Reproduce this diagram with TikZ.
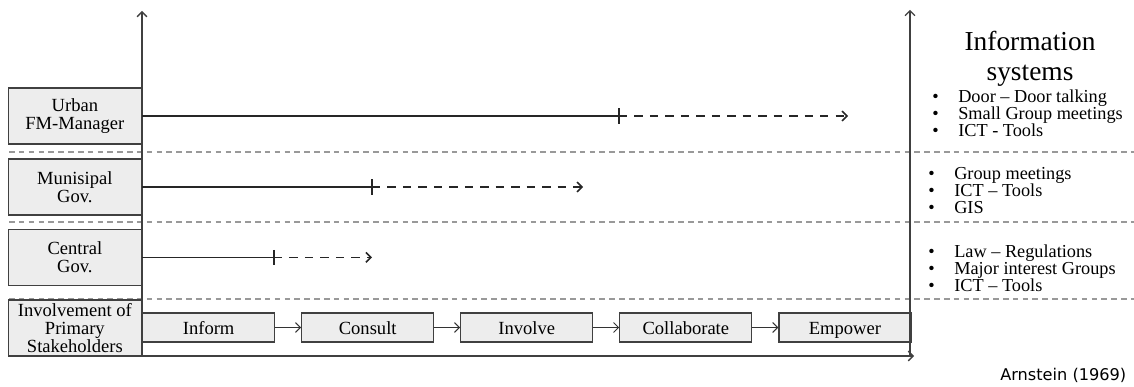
\documentclass[tikz,border=0pt]{standalone}
\usepackage{fontspec}
\setmainfont{Liberation Serif}
\newfontfamily\citefont{DejaVu Sans}
\usepackage{tikz}
\usetikzlibrary{calc}
\usetikzlibrary{arrows.meta, positioning}

\newcommand{\itembullet}{\makebox[0.65cm][l]{\textbullet}}

\begin{document}
\begin{tikzpicture}[scale = 1, >={Straight Barb[length=3.5pt, width=7pt]}]

\tikzstyle{actor}=[rectangle, draw=black!75, fill=black!7, line width=0.9pt, minimum width=3.325cm, minimum height=1.4cm, inner sep=0pt, align=center, font=\fontsize{13.2}{12.9}\selectfont]
\tikzstyle{stage}=[rectangle, draw=black!75, fill=black!7, line width=0.9pt, minimum width=3.3cm, minimum height=0.725cm, inner sep=0pt, text height=9.6pt, text depth=0pt, font=\fontsize{13.2}{13}\selectfont]
\tikzstyle{infolist}=[anchor=west, align=left, inner sep=0pt, font=\fontsize{13}{12.2}\selectfont]
\tikzstyle{level}=[line width=0.9pt, color=black!85]
\tikzstyle{reach}=[->, line width=1.1pt, color=black!85, dash pattern=on 6pt off 5pt]
\tikzstyle{axis}=[->, line width=0.9pt, color=black!75]
\tikzstyle{separator}=[line width=0.8pt, color=black!40, dash pattern=on 4pt off 3pt]

\useasboundingbox (0, 0) rectangle (28.35, 9.675);

\coordinate (O) at (3.55, 0.775);
\coordinate (yL) at (3.55, 9.4);
\coordinate (yRb) at (22.75, 0.8);
\coordinate (yR) at (22.75, 9.43);
\coordinate (xR) at (22.85, 0.775);
\coordinate (s1l) at (0.225, 5.875);
\coordinate (s1r) at (28.35, 5.875);
\coordinate (s2l) at (0.225, 4.125);
\coordinate (s2r) at (28.35, 4.125);
\coordinate (s3l) at (0.225, 2.2);
\coordinate (s3r) at (28.35, 2.2);
\coordinate (tU) at (15.475, 6.775);
\coordinate (eU) at (21.2, 6.775);
\coordinate (tM) at (9.3, 5.0);
\coordinate (eM) at (14.575, 5.0);
\coordinate (tC) at (6.85, 3.24);
\coordinate (eC) at (9.3, 3.24);

%separators
\draw[separator] (s1l) -- (s1r);
\draw[separator] (s2l) -- (s2r);
\draw[separator] (s3l) -- (s3r);

\path
(3.55, 6.775) node[actor, anchor=east](urban) {Urban\\FM-Manager}
(3.55, 5.0) node[actor, anchor=east](munisipal) {Munisipal\\Gov.}
(3.55, 3.24) node[actor, anchor=east](central) {Central\\Gov.}
(3.55, 1.475) node[actor, anchor=east](involvement) {Involvement of\\Primary\\Stakeholders};

\node[stage, anchor=west] (inform) at (3.55, 1.4875) {Inform};
\node[stage, right=0.645cm of inform] (consult) {Consult};
\node[stage, right=0.645cm of consult] (involve) {Involve};
\node[stage, right=0.645cm of involve] (collaborate) {Collaborate};
\node[stage, right=0.645cm of collaborate] (empower) {Empower};

%axes
\draw[axis] (O) -- (yL);
\draw[axis] (yRb) -- (yR);
\draw[axis] (O) -- (xR);

%ladder arrows
\draw[->, line width = 0.7, color = black!80] (inform) -- (consult);
\draw[->, line width = 0.7, color = black!80] (consult) -- (involve);
\draw[->, line width = 0.7, color = black!80] (involve) -- (collaborate);
\draw[->, line width = 0.7, color = black!80] (collaborate) -- (empower);

%reached level and dashed reach
\draw[level] (urban.east) -- (tU);
\draw[level] (tU) ++(0, 0.19) -- ++(0, -0.38);
\draw[reach] (tU) -- (eU);
\draw[level] (munisipal.east) -- (tM);
\draw[level] (tM) ++(0, 0.19) -- ++(0, -0.38);
\draw[reach] (tM) -- (eM);
\draw[level] (central.east) -- (tC);
\draw[level] (tC) ++(0, 0.19) -- ++(0, -0.38);
\draw[reach] (tC) -- (eC);

%information systems
\node[align=center, font=\fontsize{19.5}{21}\selectfont] (infosys) at (25.75, 8.2) {Information\\systems};
\node[infolist] (listU) at (23.3, 6.85) {\itembullet Door -- Door talking\\\itembullet Small Group meetings\\\itembullet ICT - Tools};
\node[infolist] (listM) at (23.2, 4.92) {\itembullet Group meetings\\\itembullet ICT -- Tools\\\itembullet GIS};
\node[infolist] (listC) at (23.2, 2.975) {\itembullet Law -- Regulations\\\itembullet Major interest Groups\\\itembullet ICT -- Tools};

\node[anchor=base west, inner sep=0pt, font={\citefont\fontsize{11.5}{13}\selectfont}] (source) at (25.0, 0.15) {Arnstein (1969)};

\end{tikzpicture}
\end{document}
